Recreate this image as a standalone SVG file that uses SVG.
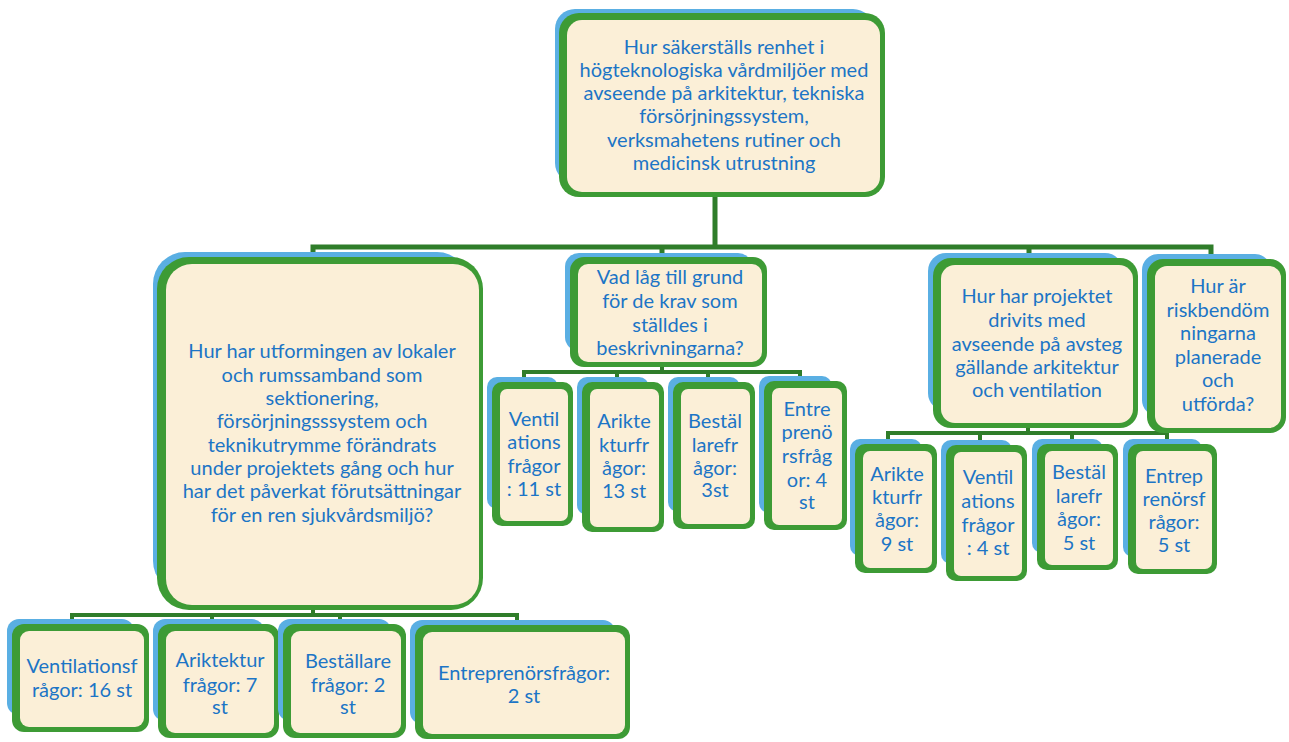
<svg xmlns="http://www.w3.org/2000/svg" width="1289" height="742" viewBox="0 0 1289 742">
<style>
.bl{fill:#5aafe3}
.gr{fill:#3d9b35}
.cr{fill:#fbefd7}
.t{font-family:Lato,"Open Sans","Liberation Sans",sans-serif;font-size:20px;fill:#1c75c6;text-anchor:middle}
.c{stroke:#2f7d2a;stroke-width:5;fill:none;stroke-linecap:square}
.c2{stroke:#2f7d2a;stroke-width:4;fill:none;stroke-linecap:square}
</style>
<rect width="1289" height="742" fill="#ffffff"/>
<g id="connectors">
<path class="c" d="M715,197 V247 M313,247 H1211 M313,247 V254 M662,247 V254 M1029,247 V255 M1211,247 V255"/>
<path class="c2" d="M662,367 V372 M524,372 H800 M524,372 V378 M617,372 V378 M708,372 V378 M800,372 V378"/>
<path class="c2" d="M1028,428 V433 M888,433 H1167 M888,433 V440 M980,433 V440 M1072,433 V440 M1167,433 V440"/>
<path class="c2" d="M313,608 V615 M72,615 H517 M72,615 V620 M212,615 V620 M340,615 V620 M517,615 V620"/>
</g>
<g id="n-top">
<rect class="bl" x="555" y="9" width="318" height="174" rx="20"/>
<rect class="gr" x="559" y="13" width="326" height="184" rx="20"/>
<rect class="cr" x="567" y="20" width="313" height="172" rx="15"/>
<text class="t"><tspan x="724" y="54">Hur säkerställs renhet i</tspan><tspan x="724" y="77">högteknologiska vårdmiljöer med</tspan><tspan x="724" y="100">avseende på arkitektur, tekniska</tspan><tspan x="724" y="123">försörjningssystem,</tspan><tspan x="724" y="147">verksmahetens rutiner och</tspan><tspan x="724" y="170">medicinsk utrustning</tspan></text>
</g>
<g id="n-lokaler">
<rect class="bl" x="153" y="252" width="316" height="341" rx="32"/>
<rect class="gr" x="157" y="257" width="326" height="353" rx="32"/>
<rect class="cr" x="166" y="264" width="313" height="341" rx="26"/>
<text class="t"><tspan x="322" y="358">Hur har utformingen av lokaler</tspan><tspan x="322" y="382">och rumssamband som</tspan><tspan x="322" y="405">sektionering,</tspan><tspan x="322" y="428">försörjningsssystem och</tspan><tspan x="322" y="452">teknikutrymme förändrats</tspan><tspan x="322" y="475">under projektets gång och hur</tspan><tspan x="322" y="498">har det påverkat förutsättningar</tspan><tspan x="322" y="522">för en ren sjukvårdsmiljö?</tspan></text>
</g>
<g id="n-grund">
<rect class="bl" x="565" y="253" width="187" height="98" rx="14"/>
<rect class="gr" x="570" y="257" width="197" height="110" rx="14"/>
<rect class="cr" x="578" y="264" width="184" height="98" rx="10"/>
<text class="t"><tspan x="670" y="284">Vad låg till grund</tspan><tspan x="670" y="308">för de krav som</tspan><tspan x="670" y="332">ställdes i</tspan><tspan x="670" y="355">beskrivningarna?</tspan></text>
</g>
<g id="n-c1">
<rect class="bl" x="487" y="377" width="71" height="132" rx="10"/>
<rect class="gr" x="492" y="382" width="81" height="144" rx="10"/>
<rect class="cr" x="500" y="389" width="68" height="132" rx="7"/>
<text class="t"><tspan x="534" y="426">Ventil</tspan><tspan x="534" y="449">ations</tspan><tspan x="534" y="473">frågor</tspan><tspan x="534" y="496">: 11 st</tspan></text>
</g>
<g id="n-c2">
<rect class="bl" x="577" y="377" width="72" height="138" rx="10"/>
<rect class="gr" x="582" y="382" width="82" height="150" rx="10"/>
<rect class="cr" x="590" y="389" width="69" height="138" rx="7"/>
<text class="t"><tspan x="624" y="428">Arikte</tspan><tspan x="624" y="452">kturfr</tspan><tspan x="624" y="475">ågor:</tspan><tspan x="624" y="498">13  st</tspan></text>
</g>
<g id="n-c3">
<rect class="bl" x="668" y="377" width="72" height="135" rx="10"/>
<rect class="gr" x="673" y="382" width="82" height="147" rx="10"/>
<rect class="cr" x="681" y="389" width="69" height="135" rx="7"/>
<text class="t"><tspan x="715" y="428">Bestäl</tspan><tspan x="715" y="452">larefr</tspan><tspan x="715" y="475">ågor:</tspan><tspan x="715" y="497">3st</tspan></text>
</g>
<g id="n-c4">
<rect class="bl" x="759" y="376" width="73" height="137" rx="10"/>
<rect class="gr" x="764" y="381" width="83" height="149" rx="10"/>
<rect class="cr" x="772" y="388" width="70" height="137" rx="7"/>
<text class="t"><tspan x="807" y="416">Entre</tspan><tspan x="807" y="439">prenö</tspan><tspan x="807" y="463">rsfråg</tspan><tspan x="807" y="487">or: 4</tspan><tspan x="807" y="509">st</tspan></text>
</g>
<g id="n-projektet">
<rect class="bl" x="928" y="253" width="195" height="158" rx="18"/>
<rect class="gr" x="933" y="258" width="205" height="170" rx="18"/>
<rect class="cr" x="941" y="265" width="192" height="158" rx="14"/>
<text class="t"><tspan x="1037" y="303">Hur har projektet</tspan><tspan x="1037" y="327">drivits med</tspan><tspan x="1037" y="351">avseende på avsteg</tspan><tspan x="1037" y="374">gällande arkitektur</tspan><tspan x="1037" y="397">och ventilation</tspan></text>
</g>
<g id="n-risk">
<rect class="bl" x="1142" y="254" width="129" height="162" rx="16"/>
<rect class="gr" x="1147" y="259" width="139" height="174" rx="16"/>
<rect class="cr" x="1155" y="266" width="126" height="162" rx="12"/>
<text class="t"><tspan x="1218" y="293">Hur är</tspan><tspan x="1218" y="317">riskbendöm</tspan><tspan x="1218" y="340">ningarna</tspan><tspan x="1218" y="364">planerade</tspan><tspan x="1218" y="387">och</tspan><tspan x="1218" y="411">utförda?</tspan></text>
</g>
<g id="n-r1">
<rect class="bl" x="850" y="439" width="72" height="117" rx="10"/>
<rect class="gr" x="855" y="444" width="82" height="129" rx="10"/>
<rect class="cr" x="863" y="451" width="69" height="117" rx="7"/>
<text class="t"><tspan x="897" y="481">Arikte</tspan><tspan x="897" y="504">kturfr</tspan><tspan x="897" y="527">ågor:</tspan><tspan x="897" y="551">9 st</tspan></text>
</g>
<g id="n-r2">
<rect class="bl" x="941" y="440" width="71" height="124" rx="10"/>
<rect class="gr" x="946" y="445" width="81" height="136" rx="10"/>
<rect class="cr" x="954" y="452" width="68" height="124" rx="7"/>
<text class="t"><tspan x="988" y="484">Ventil</tspan><tspan x="988" y="508">ations</tspan><tspan x="988" y="532">frågor</tspan><tspan x="988" y="555">: 4 st</tspan></text>
</g>
<g id="n-r3">
<rect class="bl" x="1032" y="439" width="71" height="114" rx="10"/>
<rect class="gr" x="1037" y="444" width="81" height="126" rx="10"/>
<rect class="cr" x="1045" y="451" width="68" height="114" rx="7"/>
<text class="t"><tspan x="1079" y="479">Bestäl</tspan><tspan x="1079" y="503">larefr</tspan><tspan x="1079" y="526">ågor:</tspan><tspan x="1079" y="550">5 st</tspan></text>
</g>
<g id="n-r4">
<rect class="bl" x="1123" y="439" width="79" height="118" rx="10"/>
<rect class="gr" x="1128" y="444" width="89" height="130" rx="10"/>
<rect class="cr" x="1136" y="451" width="76" height="118" rx="7"/>
<text class="t"><tspan x="1174" y="483">Entrep</tspan><tspan x="1174" y="506">renörsf</tspan><tspan x="1174" y="529">rågor:</tspan><tspan x="1174" y="552">5 st</tspan></text>
</g>
<g id="n-b1">
<rect class="bl" x="7" y="619" width="127" height="96" rx="12"/>
<rect class="gr" x="12" y="624" width="137" height="108" rx="12"/>
<rect class="cr" x="20" y="631" width="124" height="96" rx="9"/>
<text class="t"><tspan x="82" y="673">Ventilationsf</tspan><tspan x="82" y="697">rågor: 16 st</tspan></text>
</g>
<g id="n-b2">
<rect class="bl" x="153" y="619" width="111" height="102" rx="12"/>
<rect class="gr" x="158" y="624" width="121" height="114" rx="12"/>
<rect class="cr" x="166" y="631" width="108" height="102" rx="9"/>
<text class="t"><tspan x="220" y="667">Ariktektur</tspan><tspan x="220" y="692">frågor: 7</tspan><tspan x="220" y="714">st</tspan></text>
</g>
<g id="n-b3">
<rect class="bl" x="278" y="619" width="113" height="102" rx="12"/>
<rect class="gr" x="283" y="624" width="123" height="114" rx="12"/>
<rect class="cr" x="291" y="631" width="110" height="102" rx="9"/>
<text class="t"><tspan x="348" y="668">Beställare</tspan><tspan x="348" y="692">frågor: 2</tspan><tspan x="348" y="714">st</tspan></text>
</g>
<g id="n-b4">
<rect class="bl" x="410" y="620" width="205" height="104" rx="12"/>
<rect class="gr" x="415" y="625" width="215" height="114" rx="12"/>
<rect class="cr" x="423" y="632" width="202" height="102" rx="9"/>
<text class="t"><tspan x="524" y="680">Entreprenörsfrågor:</tspan><tspan x="524" y="703">2 st</tspan></text>
</g>
</svg>
